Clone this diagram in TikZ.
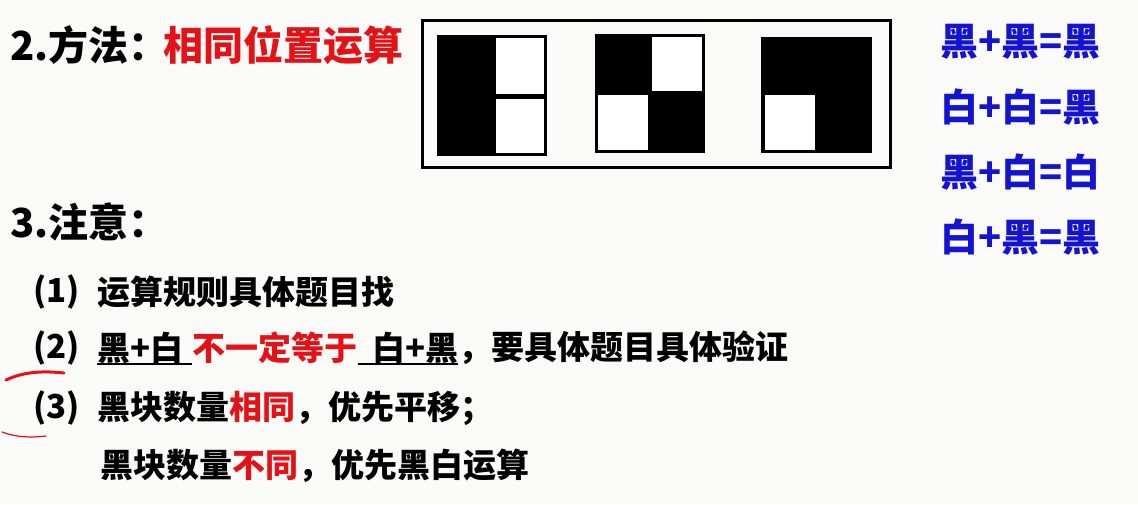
\documentclass[tikz,border=0pt]{standalone}
\usepackage{fontspec}
\setmainfont{Noto Sans CJK SC}
\usetikzlibrary{positioning}
\definecolor{paper}{RGB}{250,251,248}
\definecolor{hired}{RGB}{228,18,22}
\definecolor{ruleblue}{RGB}{20,20,208}

\begin{document}
\begin{tikzpicture}[x=1pt, y=-1pt,
  txt/.style={anchor=west, inner sep=0pt, font=\fontsize{33}{38}\selectfont\bfseries},
  head/.style={anchor=west, inner sep=0pt, font=\fontsize{40}{46}\selectfont\bfseries},
  rule/.style={anchor=west, inner sep=0pt, text=ruleblue, font=\fontsize{38}{42}\selectfont\bfseries},
  cell/.style={fill=white}]
\fill[paper] (0,0) rectangle (1138,504);
\useasboundingbox (0,0) rectangle (1138,504);

\node[head] (method) at (10,45) {2.方法：};
\node[head, text=hired] (samepos) at (163,45) {相同位置运算};

% frame with the three figures
\draw[line width=3pt] (422,20) rectangle (890,167);
% figure 1
\fill (437,35) rectangle (547,156);
\fill[cell] (496,38) rectangle (544,94);
\fill[cell] (496,99) rectangle (544,153);
% figure 2
\fill (595,34) rectangle (705,153);
\fill[cell] (652,37) rectangle (702,91);
\fill[cell] (598,95) rectangle (648,150);
% figure 3
\fill (761,37) rectangle (872,153);
\fill[cell] (765,95) rectangle (815,150);

% rules
\node[rule] (bb) at (940,42) {黑+黑=黑};
\node[rule] (ww) at (940,107) {白+白=黑};
\node[rule] (bw) at (940,172) {黑+白=白};
\node[rule] (wb) at (940,237) {白+黑=黑};

\node[head] (note) at (10,222) {3.注意：};

\node[txt] (n1) at (33,292) {(1)};
\node[txt] (t1) at (97,292) {运算规则具体题目找};

\node[txt] (n2) at (33,348) {(2)};
\node[txt] (lhs) at (97,348) {黑+白\kern9pt};
\node[txt, text=hired, right=0pt of lhs] (neq) {不一定等于};
\node[txt, right=0pt of neq] (rhs) {\kern14pt 白+黑};
\node[txt, right=0pt of rhs] (t2) {，要具体题目具体验证};
\draw[line width=1.5pt] (lhs.south west) -- (lhs.south east);
\draw[line width=1.5pt] (rhs.south west) -- (rhs.south east);

\node[txt] (n3) at (33,408) {(3)};
\node[txt] (t3) at (97,408) {黑块数量\textcolor{hired}{相同}，优先平移；};
\node[txt] (t4) at (100,466) {黑块数量\textcolor{hired}{不同}，优先黑白运算};

% pen marks
\draw[hired, line width=3pt, line cap=round] (6,380) .. controls (25,371) and (45,371) .. (64,373);
\draw[hired, line width=1.2pt, line cap=round] (2,432) .. controls (15,437) and (30,438) .. (46,436);
\end{tikzpicture}
\end{document}
